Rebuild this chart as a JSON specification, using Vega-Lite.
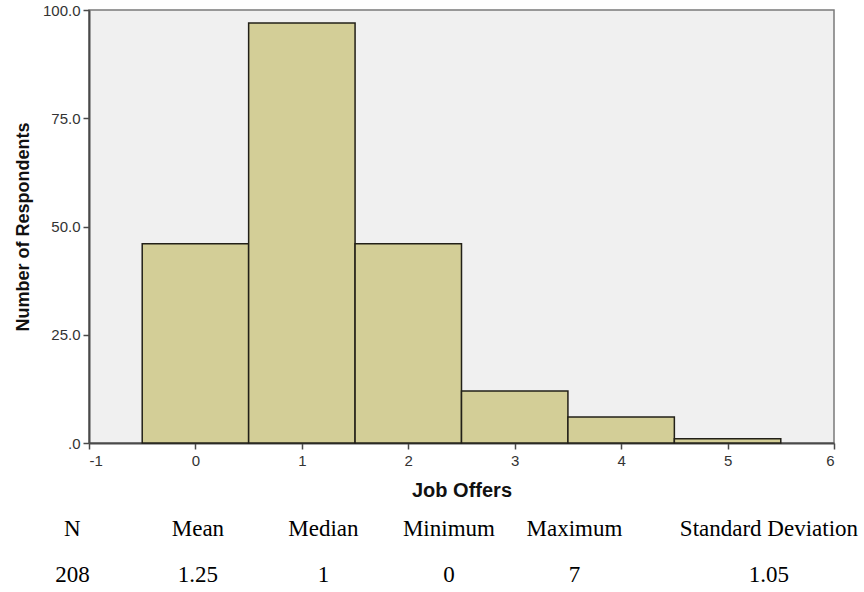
{
  "$schema": "https://vega.github.io/schema/vega-lite/v6.json",
  "background": "white",
  "padding": {"left": 13, "top": 2, "right": 0, "bottom": 0},
  "spacing": 14,
  "config": {
    "view": {"stroke": null},
    "axis": {
      "grid": false,
      "domainColor": "#4a4a4a",
      "domainWidth": 2,
      "tickColor": "#4a4a4a",
      "tickWidth": 1.5,
      "tickSize": 6,
      "labelFont": "Liberation Sans",
      "labelFontSize": 15,
      "labelColor": "#333333",
      "titleFont": "Liberation Sans",
      "titleFontWeight": "bold",
      "titleColor": "#111111"
    },
    "text": {"font": "Liberation Serif", "fontSize": 23, "color": "#000000", "dx": -50}
  },
  "vconcat": [
    {
      "width": 745,
      "height": 433,
      "view": {"fill": "#f0f0f0", "stroke": "#7a7a7a", "strokeWidth": 1.5},
      "data": {
        "values": [
          {"offers": 0, "bin_start": -0.5, "bin_end": 0.5, "respondents": 46},
          {"offers": 1, "bin_start": 0.5, "bin_end": 1.5, "respondents": 97},
          {"offers": 2, "bin_start": 1.5, "bin_end": 2.5, "respondents": 46},
          {"offers": 3, "bin_start": 2.5, "bin_end": 3.5, "respondents": 12},
          {"offers": 4, "bin_start": 3.5, "bin_end": 4.5, "respondents": 6},
          {"offers": 5, "bin_start": 4.5, "bin_end": 5.5, "respondents": 1}
        ]
      },
      "mark": {"type": "bar", "fill": "#d3ce97", "stroke": "#222018", "strokeWidth": 1.5},
      "encoding": {
        "x": {
          "field": "bin_start",
          "type": "quantitative",
          "scale": {"domain": [-1, 6], "nice": false, "zero": false},
          "axis": {
            "values": [-1, 0, 1, 2, 3, 4, 5, 6],
            "format": "d",
            "labelExpr": "replace(datum.label, '\u2212', '-')",
            "labelPadding": 4,
            "titleFontSize": 20,
            "titlePadding": 12
          },
          "title": "Job Offers"
        },
        "x2": {"field": "bin_end"},
        "y": {
          "field": "respondents",
          "type": "quantitative",
          "scale": {"domain": [0, 100], "nice": false},
          "axis": {
            "values": [0, 25, 50, 75, 100],
            "labelExpr": "datum.value == 0 ? '.0' : format(datum.value, '.1f')",
            "labelPadding": 3,
            "titleFontSize": 18,
            "titlePadding": 10
          },
          "title": "Number of Respondents"
        },
        "y2": {"datum": 0}
      }
    },
    {
      "width": 750,
      "height": 74,
      "data": {
        "values": [
          {"stat": "N", "row": "header", "label": "N"},
          {"stat": "Mean", "row": "header", "label": "Mean"},
          {"stat": "Median", "row": "header", "label": "Median"},
          {"stat": "Minimum", "row": "header", "label": "Minimum"},
          {"stat": "Maximum", "row": "header", "label": "Maximum"},
          {"stat": "Standard Deviation", "row": "header", "label": "Standard Deviation"},
          {"stat": "N", "row": "value", "label": "208"},
          {"stat": "Mean", "row": "value", "label": "1.25"},
          {"stat": "Median", "row": "value", "label": "1"},
          {"stat": "Minimum", "row": "value", "label": "0"},
          {"stat": "Maximum", "row": "value", "label": "7"},
          {"stat": "Standard Deviation", "row": "value", "label": "1.05"}
        ]
      },
      "resolve": {"scale": {"x": "independent"}},
      "layer": [
        {
          "transform": [{"filter": {"field": "stat", "oneOf": ["N", "Mean", "Median", "Minimum", "Maximum"]}}],
          "mark": {"type": "text"},
          "encoding": {
            "x": {
              "field": "stat",
              "type": "nominal",
              "sort": ["N", "Mean", "Median", "Minimum", "Maximum"],
              "scale": {"type": "point", "padding": 0.988, "align": 0.1347},
              "axis": null
            },
            "y": {
              "field": "row",
              "type": "nominal",
              "sort": ["header", "value"],
              "scale": {"type": "point", "padding": 0.3},
              "axis": null
            },
            "text": {"field": "label"}
          }
        },
        {
          "transform": [{"filter": {"field": "stat", "equal": "Standard Deviation"}}],
          "mark": {"type": "text"},
          "encoding": {
            "x": {
              "field": "stat",
              "type": "nominal",
              "scale": {"type": "point", "padding": 0.5, "align": 0.9733},
              "axis": null
            },
            "y": {
              "field": "row",
              "type": "nominal",
              "sort": ["header", "value"],
              "scale": {"type": "point", "padding": 0.3},
              "axis": null
            },
            "text": {"field": "label"}
          }
        }
      ]
    }
  ]
}
